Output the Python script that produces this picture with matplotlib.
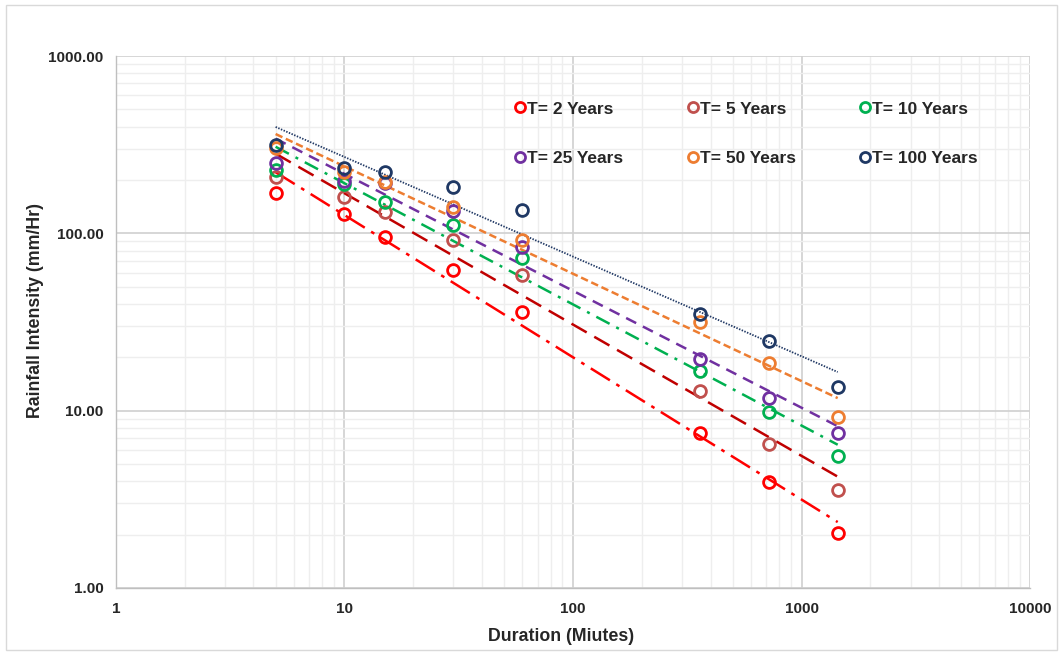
import numpy as np
import matplotlib
matplotlib.use("Agg")
import matplotlib.pyplot as plt
from matplotlib.ticker import FixedLocator, LogLocator, FuncFormatter, NullFormatter
from matplotlib.patches import Rectangle

plt.rcParams['font.family'] = ['Liberation Sans', 'DejaVu Sans']

durations = [5, 10, 15, 30, 60, 360, 720, 1440]
labels = ["T= 2 Years", "T= 5 Years", "T= 10 Years",
          "T= 25 Years", "T= 50 Years", "T= 100 Years"]
t2 = [169, 129, 95.4, 62.2, 36.0, 7.48, 3.96, 2.04]
t5 = [208, 160, 132, 91.8, 58.3, 12.9, 6.49, 3.57]
t10 = [228, 190, 150, 111.5, 72.7, 16.7, 9.83, 5.55]
t25 = [249.5, 197.5, 192, 134, 83.8, 19.6, 11.8, 7.48]
t50 = [303, 222, 195, 141, 91.8, 31.6, 18.6, 9.21]
t100 = [315, 234, 222, 183, 135.5, 35.1, 24.7, 13.6]
series = [t2, t5, t10, t25, t50, t100]

marker_colors = ["#FF0000", "#C0504D", "#00B050", "#7030A0", "#ED7D31", "#1F3864"]
line_colors = ["#FF0000", "#C00000", "#00B050", "#7030A0", "#ED7D31", "#203864"]
line_styles = [(0, (9, 3, 1.5, 3)), (0, (7, 3.5)), (0, (6, 3, 1.2, 3)),
               (0, (4.5, 3)), (0, (3, 1.5)), (0, (0.8, 0.8))]
line_widths = [1.8, 1.8, 1.8, 1.8, 1.8, 1.3]

fig = plt.figure(figsize=(10.63, 6.55), dpi=100)
ax = fig.add_axes([0.109, 0.1023, 0.860, 0.8122])
ax.set_xscale('log')
ax.set_yscale('log')
ax.set_xlim(1, 10000)
ax.set_ylim(1, 1000)

x = np.array(durations, dtype=float)
handles = []
for vals, mc, lc, ls, lw, lab in zip(series, marker_colors, line_colors,
                                     line_styles, line_widths, labels):
    y = np.array(vals, dtype=float)
    b, a = np.polyfit(np.log10(x), np.log10(y), 1)
    xf = np.array([x.min(), x.max()])
    yf = 10 ** (a + b * np.log10(xf))
    ax.plot(xf, yf, color=lc, linestyle=ls, linewidth=lw, zorder=2)
    h, = ax.plot(x, y, linestyle='none', marker='o', markersize=8.5,
                 markerfacecolor='none', markeredgecolor=mc,
                 markeredgewidth=2, label=lab, zorder=3)
    handles.append(h)

ax.xaxis.set_major_locator(FixedLocator([1, 10, 100, 1000, 10000]))
ax.yaxis.set_major_locator(FixedLocator([1, 10, 100, 1000]))
ax.xaxis.set_minor_locator(LogLocator(base=10, subs=np.arange(2, 10)))
ax.yaxis.set_minor_locator(LogLocator(base=10, subs=np.arange(2, 10)))
ax.xaxis.set_minor_formatter(NullFormatter())
ax.yaxis.set_minor_formatter(NullFormatter())
ax.xaxis.set_major_formatter(FuncFormatter(lambda v, p: f"{v:.0f}"))
ax.yaxis.set_major_formatter(FuncFormatter(lambda v, p: f"{v:.2f}"))

ax.grid(which='major', color='#D0D0D0', linewidth=1.2)
ax.grid(which='minor', color='#EEEEEE', linewidth=1.0)
ax.set_axisbelow(True)
ax.tick_params(which='both', length=0)
ax.tick_params(axis='y', pad=9, labelsize=11)
ax.tick_params(axis='x', pad=10, labelsize=11)
for lab in ax.get_xticklabels() + ax.get_yticklabels():
    lab.set_fontweight('bold')
    lab.set_color('#262626')

for s in ['top', 'right']:
    ax.spines[s].set_visible(False)
for s in ['left', 'bottom']:
    ax.spines[s].set_color('#BFBFBF')
    ax.spines[s].set_linewidth(1.0)

ax.set_xlabel("Duration (Miutes)", fontsize=12.8, fontweight='bold',
              color='#262626')
ax.set_ylabel("Rainfall Intensity (mm/Hr)", fontsize=12.8, fontweight='bold',
              color='#262626')
ax.xaxis.set_label_coords(0.487, -0.075)
ax.yaxis.set_label_coords(-0.079, 0.521)

order = [0, 3, 1, 4, 2, 5]
leg = ax.legend([handles[i] for i in order], [labels[i] for i in order],
                ncol=3, loc='upper left', bbox_to_anchor=(0.419, 0.944),
                frameon=False, prop={'weight': 'bold', 'size': 12.5},
                handlelength=0.6, handletextpad=0.1, columnspacing=3.72,
                labelspacing=1.95, markerscale=0.85)
for t in leg.get_texts():
    t.set_color('#262626')

fig.patches.append(Rectangle((0.006, 0.007), 0.988, 0.986, transform=fig.transFigure,
                             fill=False, edgecolor='#D9D9D9', linewidth=1.0))

fig.savefig("out.png", dpi=100)
